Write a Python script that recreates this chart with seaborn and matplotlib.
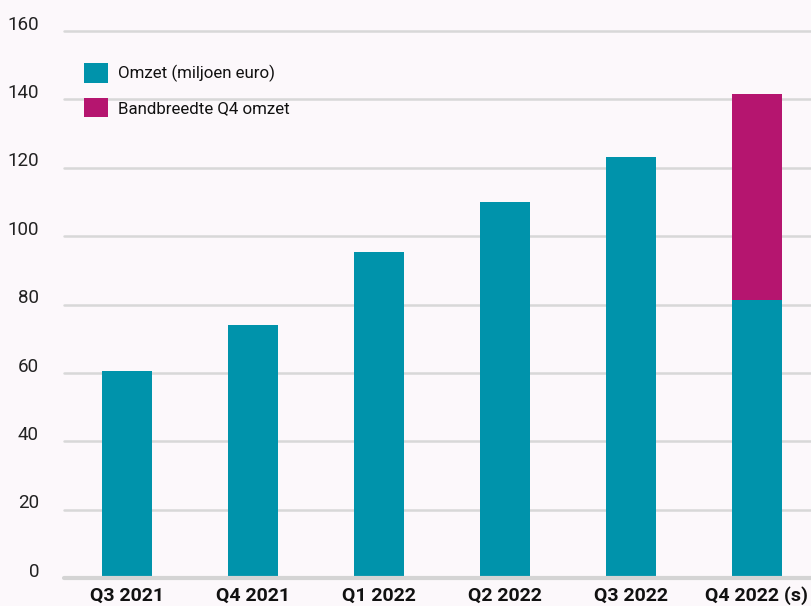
import numpy as np
import pandas as pd
import matplotlib
matplotlib.use("Agg")
import matplotlib.pyplot as plt
import matplotlib.transforms as mtransforms
from matplotlib.patches import Patch
import seaborn as sns

# ==========================================
# Data
# ==========================================

quarters = ["Q3 2021", "Q4 2021", "Q1 2022", "Q2 2022", "Q3 2022", "Q4 2022 (s)"]
omzet = [60.5, 74, 95.5, 110, 123.2, 81.2]
band_top = [np.nan, np.nan, np.nan, np.nan, np.nan, 141.5]
y_ticks = [0, 20, 40, 60, 80, 100, 120, 140, 160]

legend_labels = ["Omzet (miljoen euro)", "Bandbreedte Q4 omzet"]

teal = "#0093ab"
magenta = "#b5156f"
bg = "#fcf8fb"

df = pd.DataFrame({"quarter": quarters, "omzet": omzet, "band_top": band_top})

# ==========================================
# Style
# ==========================================

sns.set_style("white")
plt.rcParams["font.family"] = ["Roboto", "DejaVu Sans"]

fig = plt.figure(figsize=(8.11, 6.06), dpi=100, facecolor=bg)
ax = fig.add_axes([64 / 811, 28 / 606, 1 - 64 / 811, (578 - 31) / 606])
ax.set_facecolor(bg)

# ==========================================
# Bars
# ==========================================

sns.barplot(data=df, x="quarter", y="band_top", color=magenta, width=0.4,
            saturation=1, linewidth=0, edgecolor="none", ax=ax, zorder=3)
sns.barplot(data=df, x="quarter", y="omzet", color=teal, width=0.4,
            saturation=1, linewidth=0, edgecolor="none", ax=ax, zorder=3)

# ==========================================
# Axes
# ==========================================

ax.set_ylim(0, 160)
ax.set_xlim(-0.5, 5.43)
ax.set_yticks(y_ticks)
ax.set_xlabel("")
ax.set_ylabel("")

for v in y_ticks[1:]:
    ax.axhline(v, color="#d8d8d8", lw=1.8, zorder=1, clip_on=False)
ax.axhline(0, color="#d4d4d4", lw=3, zorder=4, clip_on=False)

sns.despine(ax=ax, left=True, bottom=True)
ax.tick_params(axis="y", length=0, pad=18, labelsize=13.5, labelcolor="#222222")
ax.tick_params(axis="x", length=0, pad=6, labelsize=14, labelcolor="#111111")

for lab in ax.get_xticklabels():
    lab.set_fontweight("bold")

offset = mtransforms.ScaledTranslation(0, 6 / 72, fig.dpi_scale_trans)
for lab in ax.get_yticklabels():
    lab.set_transform(lab.get_transform() + offset)

# ==========================================
# Legend
# ==========================================

handles = [Patch(facecolor=teal, edgecolor="none"),
           Patch(facecolor=magenta, edgecolor="none")]
fig.legend(handles, legend_labels, loc="upper left",
           bbox_to_anchor=(84 / 811, 1 - 63 / 606), frameon=False,
           fontsize=12.2, handlelength=1.4, handleheight=1.4,
           handletextpad=0.6, labelspacing=0.9, borderpad=0,
           borderaxespad=0, labelcolor="#111111")

plt.savefig("out.png", dpi=100, facecolor=bg)
